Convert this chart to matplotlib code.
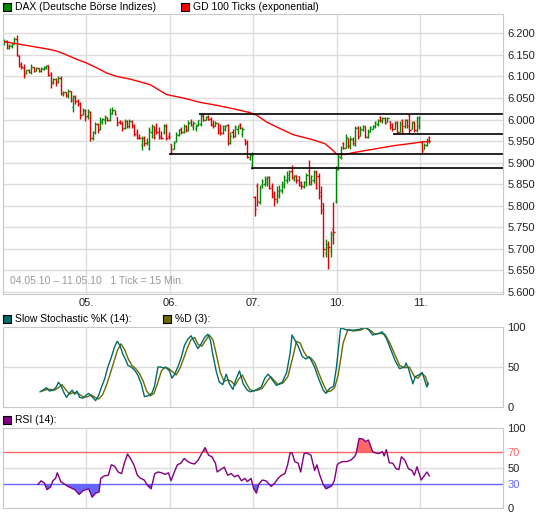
import numpy as np
import matplotlib
matplotlib.use('Agg')
import matplotlib.pyplot as plt
from matplotlib.patches import Rectangle

# DAX 15-min bars, 04.05.10 - 11.05.10 (one row per trading day)
opens = [
    6178, 6183, 6167, 6170, 6176, 6188, 6148, 6128, 6120, 6107, 6116, 6110, 6121, 6113, 6119, 6113, 6118,
    6119, 6126, 6108, 6085, 6094, 6086, 6097, 6059, 6063, 6055, 6066, 6030, 6054, 6044, 6038, 6012, 6022,
    6008, 6018, 5956, 5972, 5990, 5978, 5995, 6000, 6006, 5998, 6014, 6022, 6006, 5994, 5992, 5980, 5996,
    5984, 5996, 5988, 5970, 5960, 5940, 5958, 5946, 5935, 5970, 5985, 5975, 5972, 5962, 5970, 5988, 5962,
    5943, 5932, 5950, 5964, 5978, 5970, 5986, 5976, 5995, 5982, 5980, 5988, 5990, 6010, 6000, 6008, 6002,
    5990, 5984, 5993, 5975, 5968, 5978, 5988, 5945, 5972, 5962, 5978, 5990, 5966, 5955, 5948, 5908, 5895,
    5820, 5845, 5808, 5848, 5850, 5855, 5866, 5845, 5830, 5810, 5825, 5833, 5845, 5860, 5865, 5880, 5862,
    5872, 5868, 5855, 5843, 5855, 5880, 5850, 5860, 5878, 5870, 5832, 5806, 5690, 5710, 5695, 5745, 5812,
    5885, 5912, 5945, 5935, 5956, 5938, 5955, 5942, 5982, 5962, 5975, 5985, 5960, 5972, 5978, 5984, 5990,
    6005, 5996, 6004, 5995, 5996, 5990, 5978, 5994, 5972, 6000, 5985, 5998, 6010, 5978, 5995, 5975, 5985,
    5948, 5932, 5940, 5960,
]
highs = [
    6186, 6185, 6176, 6178, 6192, 6196, 6150, 6134, 6128, 6116, 6118, 6128, 6122, 6123, 6120, 6123, 6125,
    6127, 6127, 6110, 6097, 6097, 6100, 6100, 6066, 6065, 6071, 6067, 6057, 6058, 6048, 6040, 6026, 6025,
    6025, 6020, 5974, 5995, 5993, 6006, 6004, 6010, 6007, 6027, 6028, 6022, 6007, 6000, 5996, 6001, 6000,
    6001, 6000, 5990, 5978, 5966, 5962, 5962, 5958, 5982, 5990, 5986, 5993, 5982, 5974, 5990, 5990, 5972,
    5944, 5950, 5970, 5978, 5982, 5989, 5987, 5998, 6001, 5996, 5990, 6000, 6012, 6012, 6008, 6010, 6006,
    5998, 5996, 5993, 5989, 5988, 5988, 5990, 5970, 5978, 5988, 5988, 5993, 5982, 5955, 5952, 5922, 5925,
    5823, 5853, 5849, 5862, 5868, 5870, 5868, 5853, 5834, 5845, 5849, 5857, 5872, 5880, 5884, 5895, 5872,
    5872, 5869, 5857, 5858, 5876, 5907, 5872, 5884, 5884, 5876, 5845, 5807, 5722, 5718, 5741, 5808, 5892,
    5919, 5939, 5947, 5966, 5958, 5962, 5960, 5985, 5985, 5985, 5987, 5985, 5978, 5985, 5987, 5997, 6001,
    6009, 6005, 6005, 6006, 5997, 5993, 5997, 5997, 5997, 6001, 6001, 6001, 6016, 5997, 5997, 6009, 6009,
    5950, 5946, 5958, 5962,
]
lows = [
    6174, 6164, 6164, 6166, 6175, 6147, 6121, 6117, 6097, 6106, 6107, 6105, 6110, 6112, 6110, 6111, 6115,
    6117, 6100, 6073, 6083, 6079, 6085, 6057, 6055, 6053, 6050, 6040, 6017, 6037, 6031, 6001, 6010, 5996,
    6002, 5951, 5952, 5966, 5968, 5976, 5989, 5990, 5996, 5996, 6012, 6010, 5986, 5989, 5973, 5978, 5981,
    5981, 5981, 5962, 5954, 5954, 5930, 5938, 5942, 5930, 5958, 5954, 5966, 5954, 5954, 5966, 5953, 5955,
    5919, 5931, 5948, 5962, 5967, 5968, 5972, 5974, 5985, 5975, 5973, 5986, 5986, 5996, 5998, 5998, 5985,
    5980, 5984, 5967, 5965, 5967, 5973, 5940, 5943, 5958, 5960, 5967, 5977, 5960, 5940, 5910, 5905, 5886,
    5776, 5800, 5803, 5842, 5845, 5846, 5838, 5818, 5800, 5806, 5818, 5830, 5841, 5853, 5857, 5861, 5857,
    5853, 5845, 5838, 5841, 5845, 5849, 5849, 5853, 5838, 5815, 5780, 5680, 5682, 5653, 5682, 5711, 5807,
    5884, 5908, 5931, 5935, 5935, 5931, 5940, 5939, 5954, 5962, 5973, 5958, 5958, 5970, 5977, 5981, 5985,
    5995, 5993, 5989, 5995, 5978, 5974, 5978, 5966, 5970, 5966, 5981, 5981, 5966, 5978, 5970, 5972, 5978,
    5919, 5931, 5939, 5945,
]
closes = [
    6183, 6170, 6172, 6175, 6188, 6150, 6125, 6122, 6104, 6114, 6110, 6123, 6113, 6120, 6113, 6120, 6122,
    6125, 6104, 6086, 6094, 6087, 6097, 6062, 6063, 6056, 6066, 6046, 6052, 6042, 6035, 6010, 6022, 6005,
    6020, 5958, 5970, 5990, 5975, 5998, 6001, 6006, 5998, 6016, 6022, 6012, 5990, 5991, 5978, 5996, 5984,
    5997, 5985, 5966, 5958, 5957, 5958, 5945, 5948, 5975, 5985, 5960, 5972, 5958, 5957, 5985, 5958, 5960,
    5922, 5946, 5966, 5975, 5970, 5985, 5976, 5993, 5988, 5992, 5986, 5998, 6008, 6000, 6006, 6000, 5988,
    5984, 5993, 5972, 5968, 5984, 5985, 5945, 5962, 5962, 5983, 5985, 5980, 5978, 5945, 5914, 5918, 5918,
    5792, 5812, 5840, 5858, 5862, 5866, 5842, 5822, 5815, 5835, 5836, 5850, 5866, 5872, 5878, 5866, 5870,
    5860, 5848, 5845, 5855, 5872, 5855, 5868, 5878, 5842, 5822, 5790, 5700, 5705, 5705, 5735, 5740, 5885,
    5915, 5935, 5935, 5960, 5940, 5955, 5945, 5980, 5960, 5978, 5984, 5962, 5974, 5982, 5985, 5995, 5998,
    5998, 6003, 5992, 6004, 5982, 5978, 5992, 5970, 5990, 5972, 5998, 5985, 5975, 5992, 5975, 6004, 6005,
    5928, 5942, 5952, 5950,
]

# GD 100 (exponential), read at tick positions
ema_tick = [-0.5, 5.1, 9.1, 13.2, 17.3, 21.4, 25.4, 29.5, 33.6, 37.7, 41.7, 45.8, 51.2, 59.4, 66.1, 72.9,
            79.7, 86.5, 93.3, 100.1, 102.8, 106.9, 109.4, 112.3, 117.6, 125.7, 130.6, 133.5, 135.5, 138.8,
            142.0, 150.2, 158.3, 166.4, 170.1, 173.0]
ema_val = [6181, 6176, 6172, 6168, 6164, 6159, 6150, 6140, 6131, 6120, 6108, 6100, 6094, 6081, 6058, 6050,
           6040, 6033, 6025, 6016, 6010, 5994, 5987, 5979, 5965, 5953, 5944, 5930, 5919, 5919,
           5923, 5931, 5939, 5945, 5948, 5949]

# support / resistance lines: level and first tick
level_val = [6012, 5966, 5919, 5887]
level_from = [79.5, 158.5, 67.0, 100.5]

# Slow Stochastic %K (14) and %D (3)
k_tick = [14.6, 16.2, 17.2, 18.4, 19.8, 21.2, 22.1, 23.2, 24.3, 25.4, 26.7, 27.7, 28.7, 29.6, 30.7, 32.1,
          33.4, 34.4, 35.7, 37.2, 38.4, 39.5, 40.9, 42.2, 43.6, 44.9, 46.0, 47.1, 48.3, 49.3, 50.4, 51.7,
          53.1, 54.4, 55.8, 57.1, 58.5, 60.1, 61.2, 62.6, 63.7, 64.6, 66.0, 67.3, 68.3, 69.4, 70.7, 72.1,
          73.4, 74.8, 76.1, 77.5, 78.9, 80.2, 81.6, 82.9, 84.0, 84.9, 86.3, 87.6, 89.0, 90.4, 91.7, 93.1,
          94.4, 95.8, 97.3, 99.0, 100.2, 102.3, 104.7, 106.1, 107.5, 109.4, 110.8, 113.2, 115.0, 116.4,
          117.2, 118.3, 119.7, 121.4, 122.8, 124.2, 126.4, 127.7, 129.9, 131.0, 132.4, 134.1, 135.3, 137.0,
          139.8, 141.9, 144.7, 146.5, 148.3, 150.0, 152.5, 153.9, 155.6, 157.5, 159.3, 161.0, 163.1, 163.6,
          164.6, 166.4, 167.4, 168.8, 170.2, 172.1, 172.6]
k_val = [19, 22, 24, 20, 21, 25, 31, 26, 18, 12, 18, 21, 16, 20, 12, 11,
         15, 17, 13, 8, 14, 24, 35, 50, 62, 75, 82, 77, 66, 60, 52, 50,
         46, 40, 29, 13, 14, 17, 26, 50, 50, 49, 49, 45, 36, 41, 50, 62,
         77, 85, 89, 81, 73, 79, 87, 91, 83, 66, 45, 31, 28, 41, 29, 22,
         35, 45, 29, 21, 19, 21, 25, 36, 41, 33, 27, 31, 43, 67,
         90, 84, 76, 63, 60, 63, 50, 38, 21, 17, 23, 26, 50, 99,
         96, 96, 97, 100, 97, 90, 92, 94, 86, 71, 57, 48, 50, 55,
         48, 29, 38, 40, 43, 25, 30]
d_tick = [15.5, 17.5, 19.0, 20.5, 22.0, 23.5, 25.0, 26.5, 28.0, 29.5, 31.0, 32.5, 34.0, 35.5, 37.0, 38.5,
          40.0, 41.5, 43.0, 44.5, 46.0, 47.5, 49.0, 50.5, 52.0, 53.5, 55.0, 56.5, 58.0, 59.5, 61.0, 62.5,
          64.0, 65.5, 67.0, 68.5, 70.0, 71.5, 73.0, 74.5, 76.0, 77.5, 79.0, 80.5, 82.0, 83.5, 85.0, 86.5,
          88.0, 89.5, 91.0, 92.5, 94.0, 95.5, 97.0, 98.5, 100.0, 101.5, 103.0, 105.0, 107.0, 108.5, 110.0,
          111.5, 113.5, 115.5, 117.5, 119.0, 120.5, 122.0, 123.5, 125.0, 126.5, 128.0, 130.0, 131.5, 133.0,
          134.5, 136.0, 138.0, 140.0, 142.0, 145.0, 147.0, 149.0, 151.0, 153.0, 155.0, 157.0, 159.0, 161.0,
          163.0, 165.0, 167.0, 168.5, 170.0, 171.5, 172.6]
d_val = [20, 22, 22, 21, 24, 28, 22, 16, 18, 18, 15, 12, 13, 15, 12, 10,
         15, 26, 40, 55, 70, 79, 72, 60, 52, 48, 42, 33, 20, 14, 17, 30,
         45, 50, 48, 44, 40, 48, 60, 73, 84, 87, 78, 76, 83, 90, 84, 64,
         43, 32, 34, 32, 27, 35, 40, 30, 22, 20, 21, 23, 32, 38, 33,
         28, 30, 38, 62, 82, 80, 69, 62, 61, 55, 43, 28, 19, 20,
         24, 40, 80, 97, 95, 96, 99, 96, 91, 92, 91, 80, 66, 52,
         49, 50, 38, 36, 42, 38, 28]

# RSI (14)
rsi_tick = [13.8, 15.0, 16.4, 17.4, 18.8, 19.8, 20.9, 21.6, 23.0, 24.5, 25.9, 27.3, 28.7, 30.5, 32.2, 34.4,
            35.8, 37.2, 38.6, 39.3, 40.7, 42.4, 43.6, 45.0, 46.4, 47.8, 48.9, 50.2, 51.4, 52.8, 54.2, 55.6,
            57.0, 58.4, 59.8, 61.3, 62.7, 64.1, 65.5, 66.9, 67.9, 69.0, 70.5, 71.9, 73.3, 74.7, 76.1, 77.5,
            79.0, 80.4, 81.8, 83.2, 84.6, 86.0, 86.7, 88.1, 89.6, 91.0, 92.4, 93.8, 95.2, 96.6, 98.0, 99.0,
            100.5, 101.6, 102.7, 103.7, 105.1, 106.5, 107.5, 108.7, 110.1, 111.5, 112.9, 114.3, 115.4, 116.4,
            117.2, 118.3, 119.7, 120.7, 122.1, 123.1, 124.9, 126.4, 127.3, 128.5, 129.9, 131.0, 132.4, 133.4,
            134.4, 135.6, 136.3, 137.7, 139.5, 141.2, 142.6, 143.3, 144.5, 146.2, 146.9, 148.3, 149.0, 150.0,
            151.1, 152.5, 154.0, 154.7, 155.6, 156.8, 158.2, 159.6, 160.7, 161.7, 163.1, 164.6, 166.0, 167.0,
            168.1, 169.8, 171.2, 172.1, 173.1]
rsi_val = [29.5, 34, 31, 23, 26, 34, 37, 44, 33, 30, 27, 25, 23, 17, 22, 24,
           13.5, 18.6, 20, 37, 40, 41, 54, 52, 45, 43, 56, 67.5, 62, 54, 41, 37,
           35, 28, 24, 43, 45, 44, 42, 44, 34, 43, 54, 56, 62, 58, 56, 55,
           60, 68, 75.5, 66, 64, 56, 45, 48, 51, 41, 43, 39, 41, 34, 37, 33,
           37, 24, 18.6, 30, 35, 34, 31, 27, 31, 37, 41, 43, 54, 69,
           69, 58, 56, 45, 68, 69, 66, 47, 54, 41, 29.5, 24, 26, 28,
           34, 54, 56, 58, 58, 60, 64, 68, 87, 86, 83, 85, 79, 70.5,
           69, 68, 70.5, 65, 73, 56.5, 56, 49, 48, 64, 60, 49, 47, 41,
           51.5, 35, 41, 45, 40]

day_edges = [33.5, 67.5, 101.5, 135.5, 169.5]
day_names = ['05.', '06.', '07.', '10.', '11.']

plt.rcParams['font.family'] = ['Liberation Sans', 'DejaVu Sans']
plt.rcParams['font.size'] = 8

W, H = 545, 516
fig = plt.figure(figsize=(W / 100, H / 100), dpi=100)


def panel(top, bottom):
    return fig.add_axes([3 / W, 1 - bottom / H, 500 / W, (bottom - top) / H])


ax1 = panel(14, 294)
ax2 = panel(327, 407)
ax3 = panel(428, 508)

for ax in (ax1, ax2, ax3):
    ax.set_xlim(-0.5, 203.1)
    ax.set_xticks(day_edges)
    ax.tick_params(axis='x', length=0, labelbottom=False)
    ax.yaxis.tick_right()
    ax.tick_params(axis='y', length=0, pad=3, labelsize=8, labelcolor='#222222')
    for s in ax.spines.values():
        s.set_color('#c8c8c8')
    ax.grid(True, axis='x', color='#dddddd', lw=1)
    ax.set_axisbelow(True)

# main price panel
x = np.arange(len(closes))
o = np.array(opens); c = np.array(closes)
cols = np.where(c >= o, '#008800', '#dd0000')
ax1.vlines(x, lows, highs, colors=cols, lw=1)
ax1.hlines(o, x - 0.5, x, colors=cols, lw=1)
ax1.hlines(c, x, x + 0.5, colors=cols, lw=1)
ax1.plot(ema_tick, ema_val, color='#ff0000', lw=1)
for lv, x0 in zip(level_val, level_from):
    ax1.hlines(lv, x0, 203.1, color='black', lw=1.2)
ax1.set_ylim(5595, 6245)
yt = np.arange(5600, 6201, 50)
ax1.set_yticks(yt)
ax1.set_yticklabels(['%.3f' % (v / 1000) for v in yt])
ax1.grid(True, axis='y', color='#dddddd', lw=1)
ax1.set_xticklabels(day_names)
ax1.tick_params(axis='x', labelbottom=True, pad=3, labelsize=8, labelcolor='#222222')
ax1.text(0.013, 0.03, '04.05.10 \u2013 11.05.10   1 Tick = 15 Min.', transform=ax1.transAxes,
         color='#999999', fontsize=7.5, va='bottom')

# stochastic panel
ax2.plot(d_tick, d_val, color='#6b6b00', lw=1)
ax2.plot(k_tick, k_val, color='#006b6b', lw=1)
ax2.set_ylim(0, 100)
ax2.set_yticks([0, 50, 100])
ax2.axhline(50, color='#dddddd', lw=1, zorder=0)

# RSI panel
rx = np.array(rsi_tick); rv = np.array(rsi_val)
ax3.fill_between(rx, rv, 70, where=rv >= 70, interpolate=True, color='#ff6666', lw=0)
ax3.fill_between(rx, rv, 30, where=rv <= 30, interpolate=True, color='#6666ff', lw=0)
ax3.axhline(50, color='#dddddd', lw=1, zorder=0)
ax3.axhline(70, color='#ff6666', lw=1)
ax3.axhline(30, color='#6666ff', lw=1)
ax3.plot(rx, rv, color='#800080', lw=1)
ax3.set_ylim(0, 100)
ax3.set_yticks([0, 30, 50, 70, 100])
tl = ax3.get_yticklabels()
tl[1].set_color('#6666ff')
tl[3].set_color('#ff6666')


def legend_item(px, py, color, label):
    fig.add_artist(Rectangle((px / W, 1 - (py + 4) / H), 8 / W, 8 / H, transform=fig.transFigure,
                             facecolor=color, edgecolor='black', lw=0.8))
    fig.text((px + 12) / W, 1 - py / H, label, va='center', ha='left', fontsize=7.5)


legend_item(3, 7, '#008800', 'DAX (Deutsche B\u00f6rse Indizes)')
legend_item(181, 7, '#ff0000', 'GD 100 Ticks (exponential)')
legend_item(3, 319, '#006b6b', 'Slow Stochastic %K (14):')
legend_item(163, 319, '#6b6b00', '%D (3):')
legend_item(3, 420, '#800080', 'RSI (14):')

plt.savefig('out.png')
